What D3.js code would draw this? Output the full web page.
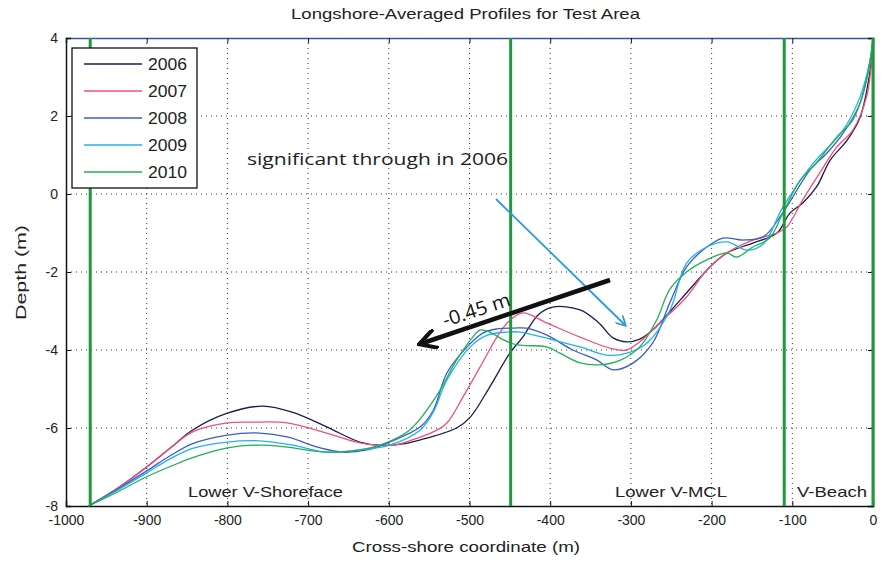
<!DOCTYPE html>
<html><head><meta charset="utf-8">
<script src="https://cdn.jsdelivr.net/npm/d3@7"></script>
<style>body{margin:0;background:#fff}svg{display:block}</style>
</head><body>
<svg id="c" width="886" height="562"></svg>
<script>
const years = ["2006","2007","2008","2009","2010"];
const colors = ["#1c1c4e","#f0507a","#3a5ccc","#22b2ea","#22b055"];
const xTicks = [-1000,-900,-800,-700,-600,-500,-400,-300,-200,-100,0];
const yTicks = [4,2,0,-2,-4,-6,-8];
const zoneLines = [-970,-449,-110,0];
const s2006 = [[-972,-8],[-940,-7.6],[-900,-7.0],[-870,-6.5],[-843,-6.05],[-800,-5.62],[-756,-5.44],[-719,-5.6],[-677,-5.97],[-636,-6.36],[-612,-6.44],[-580,-6.4],[-553,-6.26],[-516,-6.0],[-499,-5.72],[-475,-4.95],[-450,-4.08],[-434,-3.67],[-415,-3.1],[-397,-2.9],[-363,-2.97],[-340,-3.3],[-322,-3.69],[-305,-3.79],[-289,-3.72],[-273,-3.49],[-239,-2.72],[-202,-1.87],[-181,-1.51],[-149,-1.26],[-119,-1.0],[-103,-0.49],[-87,-0.23],[-70,0.18],[-53,0.87],[-32,1.38],[-16,1.97],[-4,3.1],[0,3.95]];
const s2007 = [[-972,-8],[-940,-7.6],[-900,-7.0],[-870,-6.5],[-843,-6.1],[-800,-5.87],[-768,-5.85],[-726,-5.87],[-677,-6.13],[-636,-6.38],[-595,-6.44],[-570,-6.3],[-545,-6.1],[-528,-5.87],[-508,-5.2],[-487,-4.44],[-466,-3.67],[-452,-3.28],[-434,-3.05],[-404,-3.31],[-363,-3.67],[-326,-3.95],[-305,-4.0],[-289,-3.79],[-264,-3.3],[-231,-2.64],[-206,-1.95],[-181,-1.51],[-149,-1.18],[-119,-1.0],[-107,-0.85],[-87,-0.15],[-66,0.54],[-45,1.2],[-25,1.64],[-8,2.49],[0,3.9]];
const s2008 = [[-972,-8],[-940,-7.62],[-900,-7.1],[-870,-6.7],[-843,-6.4],[-800,-6.18],[-760,-6.13],[-726,-6.23],[-685,-6.51],[-657,-6.62],[-627,-6.56],[-599,-6.36],[-561,-5.97],[-545,-5.55],[-528,-4.59],[-503,-3.92],[-483,-3.56],[-466,-3.46],[-446,-3.44],[-429,-3.44],[-404,-3.62],[-372,-4.0],[-342,-4.26],[-322,-4.51],[-297,-4.33],[-273,-3.82],[-252,-2.8],[-231,-1.87],[-211,-1.44],[-186,-1.13],[-161,-1.18],[-136,-1.1],[-112,-0.49],[-78,0.62],[-57,1.05],[-37,1.56],[-16,2.33],[-4,3.36],[0,3.95]];
const s2009 = [[-972,-8],[-940,-7.64],[-900,-7.15],[-870,-6.78],[-843,-6.52],[-800,-6.36],[-760,-6.33],[-719,-6.44],[-677,-6.62],[-636,-6.56],[-599,-6.44],[-561,-6.05],[-545,-5.6],[-528,-4.77],[-499,-3.92],[-478,-3.62],[-454,-3.54],[-437,-3.54],[-397,-3.74],[-363,-3.92],[-330,-4.13],[-305,-4.08],[-280,-3.82],[-252,-3.0],[-231,-1.77],[-206,-1.36],[-181,-1.23],[-156,-1.44],[-136,-1.28],[-112,-0.35],[-78,0.69],[-37,1.64],[-16,2.49],[-4,3.4],[0,3.98]];
const s2010 = [[-972,-8],[-940,-7.68],[-900,-7.25],[-870,-6.98],[-843,-6.76],[-800,-6.51],[-760,-6.44],[-726,-6.49],[-677,-6.62],[-636,-6.56],[-611,-6.44],[-574,-6.05],[-540,-5.15],[-516,-4.26],[-496,-3.67],[-487,-3.49],[-475,-3.54],[-458,-3.74],[-441,-3.87],[-404,-3.92],[-388,-4.08],[-363,-4.33],[-338,-4.38],[-313,-4.26],[-289,-3.92],[-268,-3.23],[-252,-2.45],[-231,-2.0],[-206,-1.69],[-181,-1.51],[-169,-1.62],[-149,-1.36],[-128,-1.13],[-112,-0.5],[-90,0.36],[-70,0.8],[-45,1.46],[-25,1.9],[-8,2.92],[0,4.0]];
const series = [s2006,s2007,s2008,s2009,s2010];

const svg = d3.select("#c");
const L=66,R=873,T=38,B=506;
const x = d3.scaleLinear().domain([-1000,0]).range([L,R]);
const y = d3.scaleLinear().domain([-8,4]).range([B,T]);
const mfont = "Liberation Sans, Arial, sans-serif";

// grid
const g = svg.append("g");
g.selectAll(".gx").data(xTicks.slice(1,-1)).enter().append("line")
 .attr("x1",d=>x(d)).attr("x2",d=>x(d)).attr("y1",T).attr("y2",B)
 .attr("stroke","#333").attr("stroke-width",1).attr("stroke-dasharray","1,4");
g.selectAll(".gy").data(yTicks.slice(1,-1)).enter().append("line")
 .attr("y1",d=>y(d)).attr("y2",d=>y(d)).attr("x1",L).attr("x2",R)
 .attr("stroke","#333").attr("stroke-width",1).attr("stroke-dasharray","1,4");

// axes
const xa = svg.append("g").attr("transform",`translate(0,${B})`)
 .call(d3.axisBottom(x).tickValues(xTicks).tickSize(-5).tickPadding(9).tickFormat(d3.format("d")));
const xt = svg.append("g").attr("transform",`translate(0,${T})`)
 .call(d3.axisTop(x).tickValues(xTicks).tickSize(-5).tickFormat(""));
const ya = svg.append("g").attr("transform",`translate(${L},0)`)
 .call(d3.axisLeft(y).tickValues(yTicks).tickSize(-5).tickPadding(8).tickFormat(d3.format("d")));
const yr = svg.append("g").attr("transform",`translate(${R},0)`)
 .call(d3.axisRight(y).tickValues(yTicks).tickSize(-5).tickFormat(""));
[xa,xt,ya,yr].forEach(a=>{a.select(".domain").attr("stroke","#111").attr("stroke-width",1.5);
 a.selectAll(".tick line").attr("stroke","#111");
 a.selectAll("text").attr("font-family",mfont).attr("font-size",14).attr("fill","#222");});
xt.select(".domain").attr("stroke","#3a50b0");
xa.selectAll("text").text(d=>d3.format("d")(d).replace("\u2212","-"));
ya.selectAll("text").text(d=>d3.format("d")(d).replace("\u2212","-"));

// profile lines
const line = d3.line().x(d=>x(d[0])).y(d=>y(d[1])).curve(d3.curveCatmullRom.alpha(0.5));
svg.append("g").selectAll("path").data(series).enter().append("path")
 .attr("d",line).attr("fill","none").attr("stroke",(d,i)=>colors[i]).attr("stroke-width",1.3);

// zone lines
svg.append("g").selectAll("line").data(zoneLines).enter().append("line")
 .attr("x1",d=>x(d)).attr("x2",d=>x(d)).attr("y1",T).attr("y2",B)
 .attr("stroke","#1e9a3c").attr("stroke-width",3);

// zone labels
const zl = [["Lower V-Shoreface",188,155],["Lower V-MCL",615,112],["V-Beach",797,70]];
svg.append("g").selectAll("text").data(zl).enter().append("text")
 .attr("x",d=>d[1]).attr("y",497).attr("font-family",mfont).attr("font-size",15).attr("fill","#222")
 .attr("textLength",d=>d[2]).attr("lengthAdjust","spacingAndGlyphs").text(d=>d[0]);

// legend
const lg = svg.append("g");
lg.append("rect").attr("x",72).attr("y",48).attr("width",125).attr("height",140)
 .attr("fill","#fff").attr("stroke","#111").attr("stroke-width",1.3);
years.forEach((yv,i)=>{
  const yy = 64 + i*27;
  lg.append("line").attr("x1",84).attr("x2",142).attr("y1",yy).attr("y2",yy)
    .attr("stroke",colors[i]).attr("stroke-width",1.6);
  lg.append("text").attr("x",148).attr("y",yy+6).attr("font-family",mfont).attr("font-size",16)
    .attr("fill","#222").attr("textLength",39).attr("lengthAdjust","spacingAndGlyphs").text(yv);
});

// titles
svg.append("text").attr("x",291).attr("y",19).attr("font-family",mfont).attr("font-size",15)
 .attr("fill","#222").attr("textLength",349).attr("lengthAdjust","spacingAndGlyphs")
 .text("Longshore-Averaged Profiles for Test Area");
svg.append("text").attr("x",352).attr("y",552).attr("font-family",mfont).attr("font-size",15)
 .attr("fill","#222").attr("textLength",228).attr("lengthAdjust","spacingAndGlyphs")
 .text("Cross-shore coordinate (m)");
svg.append("text").attr("transform","translate(26,320) rotate(-90)").attr("font-family",mfont)
 .attr("font-size",15).attr("fill","#222").attr("textLength",95).attr("lengthAdjust","spacingAndGlyphs")
 .text("Depth (m)");

// annotations
const defs = svg.append("defs");
defs.append("marker").attr("id","ab").attr("viewBox","0 0 10 10").attr("refX",8).attr("refY",5)
 .attr("markerWidth",6).attr("markerHeight",6).attr("orient","auto")
 .append("path").attr("d","M0,0 L9,5 L0,10").attr("fill","none").attr("stroke","#2a9ae0").attr("stroke-width",1.6);
defs.append("marker").attr("id","ak").attr("viewBox","0 0 10 10").attr("refX",7).attr("refY",5)
 .attr("markerWidth",4.5).attr("markerHeight",4.5).attr("orient","auto")
 .append("path").attr("d","M0,0 L9,5 L0,10").attr("fill","none").attr("stroke","#111").attr("stroke-width",2);
svg.append("line").attr("x1",496).attr("y1",199).attr("x2",625).attr("y2",325)
 .attr("stroke","#2a9ae0").attr("stroke-width",1.8).attr("marker-end","url(#ab)");
svg.append("line").attr("x1",610).attr("y1",280).attr("x2",423).attr("y2",343)
 .attr("stroke","#111").attr("stroke-width",4.5).attr("marker-end","url(#ak)");
svg.append("text").attr("transform","translate(445,327) rotate(-18)")
 .attr("font-family","Open Sans, sans-serif").attr("font-size",19).attr("fill","#111")
 .attr("textLength",70).attr("lengthAdjust","spacingAndGlyphs").text("-0.45 m");
svg.append("text").attr("x",247).attr("y",165).attr("font-family","Open Sans, sans-serif")
 .attr("font-size",17).attr("fill","#222").attr("textLength",261).attr("lengthAdjust","spacingAndGlyphs")
 .text("significant through in 2006");
</script>
</body></html>
